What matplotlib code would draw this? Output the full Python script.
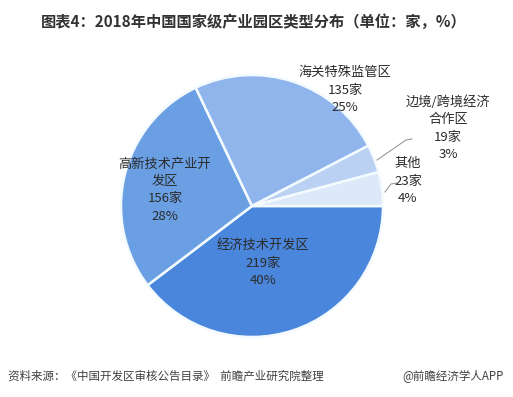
import numpy as np
import matplotlib
matplotlib.use("Agg")
import matplotlib.pyplot as plt

plt.rcParams['font.family'] = ['Noto Sans CJK SC', 'DejaVu Sans']

# 数据
categories = ['经济技术开发区', '高新技术产业开\n发区', '海关特殊监管区', '边境/跨境经济\n合作区', '其他']
counts = [219, 156, 135, 19, 23]
percents = [40, 28, 25, 3, 4]
colors = ['#4a86dc', '#6b9fe4', '#8fb5ec', '#bad1f3', '#dde8f8']

W, H = 513, 397
fig = plt.figure(figsize=(W / 100, H / 100), dpi=100)

# 饼图中心 (252, 206) 像素，半径 131 像素
cx, cy, r = 252, 206, 131
ax = fig.add_axes([(cx - r) / W, (H - cy - r) / H, 2 * r / W, 2 * r / H])
ax.pie(counts, colors=colors, startangle=0, counterclock=False,
       wedgeprops=dict(edgecolor='#f4fbff', linewidth=1.8))
ax.set_xlim(-1, 1)
ax.set_ylim(-1, 1)
ax.set_aspect('equal')


def px(x, y):
    # 像素坐标 -> 数据坐标
    return (x - cx) / r, (cy - y) / r


# 标签位置（像素，文本块中心）
label_pos = [(263, 263), (165, 190), (345, 90), (448, 128), (408, 181)]
for name, n, p, (lx, ly) in zip(categories, counts, percents, label_pos):
    tx, ty = px(lx, ly)
    ax.text(tx, ty, f"{name}\n{n}家\n{p}%", ha='center', va='center',
            fontsize=9.5, color='#2b2b2b', linespacing=1.45, clip_on=False)

# 引导线
for pts in ([(377, 160), (406, 140), (412, 139)], [(385, 192), (391, 184), (397, 183)]):
    xs, ys = zip(*[px(a, b) for a, b in pts])
    ax.plot(xs, ys, color='#999999', linewidth=0.8, clip_on=False)

fig.text(254 / W, 1 - 22 / H, '图表4：2018年中国国家级产业园区类型分布（单位：家，%）',
         ha='center', va='center', fontsize=11, fontweight='bold', color='#333333')

fig.text(8 / W, 1 - 376 / H, '资料来源：《中国开发区审核公告目录》  前瞻产业研究院整理',
         ha='left', va='center', fontsize=8.3, style='italic', color='#404040')
fig.text(504 / W, 1 - 376 / H, '@前瞻经济学人APP',
         ha='right', va='center', fontsize=8.3, color='#404040')

plt.savefig('out.png', dpi=100, facecolor='white')
plt.close()
